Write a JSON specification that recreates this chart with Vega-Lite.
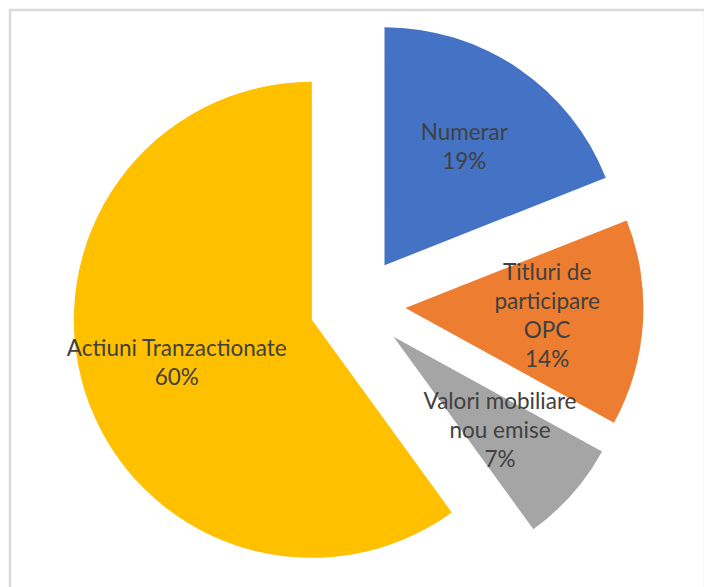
{
  "$schema": "https://vega.github.io/schema/vega-lite/v6.json",
  "width": 695,
  "height": 590,
  "autosize": {"type": "none"},
  "padding": {"left": 10, "top": 10, "right": 0, "bottom": 0},
  "background": "white",
  "view": {"stroke": "#d9d9d9", "strokeWidth": 2.5},
  "data": {
    "values": [
      {"rank": 1, "category": "Numerar", "value": 19, "label": "Numerar\n19%"},
      {"rank": 2, "category": "Titluri de participare OPC", "value": 14, "label": "Titluri de\nparticipare\nOPC\n14%"},
      {"rank": 3, "category": "Valori mobiliare nou emise", "value": 7, "label": "Valori mobiliare\nnou emise\n7%"},
      {"rank": 4, "category": "Actiuni Tranzactionate", "value": 60, "label": "Actiuni Tranzactionate\n60%"}
    ]
  },
  "encoding": {
    "theta": {"field": "value", "type": "quantitative", "stack": true},
    "order": {"field": "rank", "type": "quantitative"}
  },
  "layer": [
    {
      "mark": {
        "type": "arc",
        "radius": 238,
        "xOffset": {"expr": "48*sin((scale('theta', datum.value_start)+scale('theta', datum.value_end))/2)"},
        "yOffset": {"expr": "-48*cos((scale('theta', datum.value_start)+scale('theta', datum.value_end))/2)"}
      },
      "encoding": {
        "color": {
          "field": "category",
          "type": "nominal",
          "scale": {
            "domain": ["Numerar", "Titluri de participare OPC", "Valori mobiliare nou emise", "Actiuni Tranzactionate"],
            "range": ["#4472C4", "#ED7D31", "#A5A5A5", "#FFC000"]
          },
          "legend": null
        }
      }
    },
    {
      "mark": {
        "type": "text",
        "radius": 190,
        "font": "Lato",
        "fontSize": 22.5,
        "fill": "#404040",
        "lineBreak": "\n",
        "lineHeight": 29,
        "align": "center",
        "baseline": "middle",
        "dy": {"expr": "-(length(split(datum.label, '\\n'))-1)*14.5"}
      },
      "encoding": {
        "text": {"field": "label", "type": "nominal"}
      }
    }
  ]
}
